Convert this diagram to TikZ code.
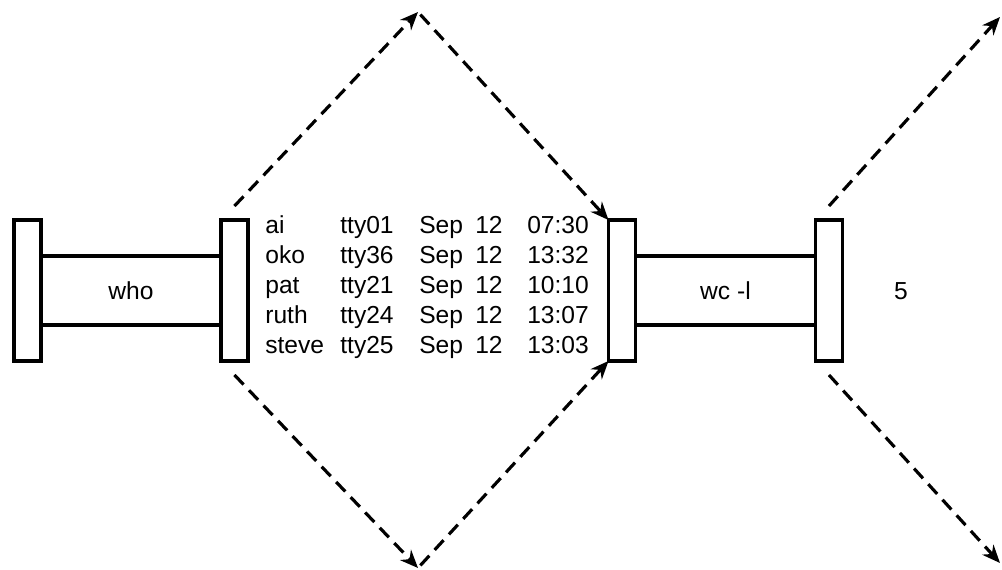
\documentclass[tikz,border=0pt]{standalone}
\usepackage{fontspec}
\setmainfont{Liberation Sans}
\usetikzlibrary{arrows.meta,positioning}
\newcommand{\eintrag}[5]{\makebox[1.5cm][l]{#1}\makebox[1.58cm][l]{#2}\makebox[1.12cm][l]{#3}\makebox[1.04cm][l]{#4}#5}
\tikzset{
  schrift/.style={font=\fontsize{14}{16}\selectfont},
  rohr/.style={draw,line width=1.8pt,minimum width=3.6cm,minimum height=1.38cm,inner sep=0pt,outer sep=0pt,schrift},
  flansch/.style={draw,line width=1.8pt,minimum width=0.54cm,minimum height=2.82cm,inner sep=0pt,outer sep=0pt},
  pfeil/.style={-{Stealth[length=3.6mm,width=3mm]},line width=1.8pt,dash pattern=on 7.5pt off 4.5pt},
  zeile/.style={anchor=base west,inner sep=0pt,schrift},
}
\begin{document}
\begin{tikzpicture}[x=0.02cm,y=-0.02cm]
  \useasboundingbox (0,0) rectangle (1002,570);
  \node[rohr] (who) at (131,290.5) {who};
  \node[flansch,left=0pt of who] (who-l) {};
  \node[flansch,right=0pt of who] (who-r) {};
  \node[rohr] (wc) at (725.5,290.5) {wc -l};
  \node[flansch,left=0pt of wc] (wc-l) {};
  \node[flansch,right=0pt of wc] (wc-r) {};
  \node[schrift] (ergebnis) at (901,291) {5};
  \node[zeile] (z1) at (265,234) {\eintrag{ai}{tty01}{Sep}{12}{07:30}};
  \node[zeile] (z2) at (265,264) {\eintrag{oko}{tty36}{Sep}{12}{13:32}};
  \node[zeile] (z3) at (265,294) {\eintrag{pat}{tty21}{Sep}{12}{10:10}};
  \node[zeile] (z4) at (265,324) {\eintrag{ruth}{tty24}{Sep}{12}{13:07}};
  \node[zeile] (z5) at (265,354) {\eintrag{steve}{tty25}{Sep}{12}{13:03}};
  \coordinate (oben1) at (418,12);
  \coordinate (unten1) at (418,568);
  \coordinate (oben2) at (1000,17);
  \coordinate (unten2) at (1000,563);
  \draw[pfeil] ([yshift=2.8mm]who-r.north) -- (oben1);
  \draw[pfeil,shorten <=2pt] (oben1) -- (wc-l.north west);
  \draw[pfeil] ([yshift=-2.8mm]who-r.south) -- (unten1);
  \draw[pfeil,shorten <=2pt] (unten1) -- (wc-l.south west);
  \draw[pfeil] ([yshift=2.8mm]wc-r.north) -- (oben2);
  \draw[pfeil] ([yshift=-2.8mm]wc-r.south) -- (unten2);
\end{tikzpicture}
\end{document}
